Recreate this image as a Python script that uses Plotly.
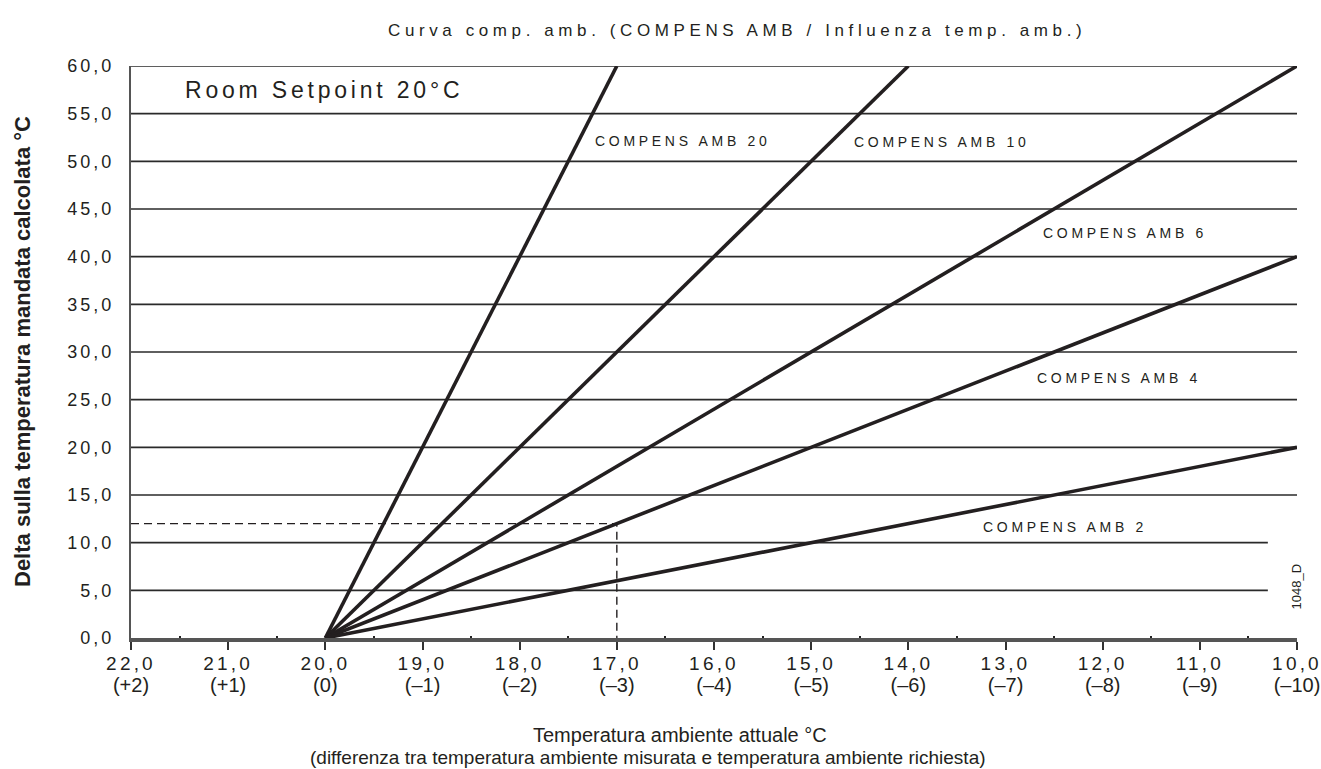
import plotly.graph_objects as go

# ---------------- data ----------------
curve_names = ["COMPENS AMB 20", "COMPENS AMB 10", "COMPENS AMB 6", "COMPENS AMB 4", "COMPENS AMB 2"]
curve_x = [[20, 17], [20, 14], [20, 10], [20, 10], [20, 10]]
curve_y = [[0, 60], [0, 60], [0, 60], [0, 40], [0, 20]]

# label anchor positions (data coords) for the curve names
label_x = [17.25, 14.58, 12.63, 12.70, 13.25]
label_y = [52.1, 52.0, 42.5, 27.3, 11.6]

example_x = [22, 17, 17]
example_y = [12, 12, 0]

x_ticks = [22, 21, 20, 19, 18, 17, 16, 15, 14, 13, 12, 11, 10]
x_tick_main = ["22,0", "21,0", "20,0", "19,0", "18,0", "17,0", "16,0", "15,0", "14,0", "13,0", "12,0", "11,0", "10,0"]
x_tick_diff = ["(+2)", "(+1)", "(0)", "(–1)", "(–2)", "(–3)", "(–4)", "(–5)", "(–6)", "(–7)", "(–8)", "(–9)", "(–10)"]

y_ticks = [0, 5, 10, 15, 20, 25, 30, 35, 40, 45, 50, 55, 60]
y_tick_text = ["0,0", "5,0", "10,0", "15,0", "20,0", "25,0", "30,0", "35,0", "40,0", "45,0", "50,0", "55,0", "60,0"]
grid_end = [10, 10.3, 10.3, 10, 10, 10, 10, 10, 10, 10, 10, 10, 10]

minor_ticks = [21.5, 20.5, 19.5, 18.5, 17.5, 16.5, 15.5, 14.5, 13.5, 12.5, 11.5, 10.5]

INK = "#231f20"
FONT = "Liberation Sans, Arial, sans-serif"
NARROW = "Liberation Sans Narrow, Arial Narrow, Liberation Sans, sans-serif"

W, H = 1321, 769
ML, MR, MT, MB = 131, 24, 66, 131
PW, PH = W - ML - MR, H - MT - MB


def spaced(t, px):
    return f"<span style='letter-spacing:{px}px'>{t}</span>"


def px_to_paper_x(px):
    return (px - ML) / PW


def px_to_paper_y(py):
    return (H - MB - py) / PH


fig = go.Figure()

for xs, ys, name in zip(curve_x, curve_y, curve_names):
    fig.add_trace(go.Scatter(x=xs, y=ys, mode="lines", name=name,
                             line=dict(color=INK, width=3.6), showlegend=False,
                             hoverinfo="skip"))

fig.add_trace(go.Scatter(x=example_x, y=example_y, mode="lines",
                         line=dict(color=INK, width=1.4, dash="8px,5px"),
                         showlegend=False, hoverinfo="skip"))

# horizontal grid lines
for yv, xe in zip(y_ticks[1:], grid_end[1:]):
    fig.add_shape(type="line", x0=22, x1=xe, y0=yv, y1=yv, xref="x", yref="y",
                  line=dict(color="#2a2a2a", width=1.6), layer="below")

# curve labels
for name, lx, ly in zip(curve_names, label_x, label_y):
    fig.add_annotation(x=lx, y=ly, xref="x", yref="y", text=spaced(name, 3.7),
                       showarrow=False, xanchor="left", yanchor="middle",
                       font=dict(family=FONT, size=14, color=INK))

fig.add_annotation(x=px_to_paper_x(183), y=px_to_paper_y(90), xref="paper", yref="paper",
                   text=spaced("Room Setpoint 20°C", 3.8), showarrow=False,
                   xanchor="left", yanchor="middle",
                   font=dict(family=FONT, size=23, color=INK))

fig.add_annotation(x=px_to_paper_x(386), y=px_to_paper_y(30), xref="paper", yref="paper",
                   text=spaced("Curva comp. amb. (COMPENS AMB / Influenza temp. amb.)", 4.6),
                   showarrow=False, xanchor="left", yanchor="middle",
                   font=dict(family=FONT, size=17, color=INK))

fig.add_annotation(x=px_to_paper_x(22), y=0.5, xref="paper", yref="paper",
                   text="<b>Delta sulla temperatura mandata calcolata °C</b>",
                   showarrow=False, textangle=-90, xanchor="center", yanchor="middle",
                   font=dict(family=FONT, size=22, color=INK))

fig.add_annotation(x=px_to_paper_x(680), y=px_to_paper_y(735), xref="paper", yref="paper",
                   text="Temperatura ambiente attuale °C", showarrow=False,
                   xanchor="center", yanchor="middle",
                   font=dict(family=FONT, size=20, color=INK))
fig.add_annotation(x=px_to_paper_x(648), y=px_to_paper_y(757), xref="paper", yref="paper",
                   text="(differenza tra temperatura ambiente misurata e temperatura ambiente richiesta)",
                   showarrow=False, xanchor="center", yanchor="middle",
                   font=dict(family=FONT, size=19, color=INK))

fig.add_annotation(x=10, y=5.4, xref="x", yref="y", text="1048_D", showarrow=False,
                   textangle=-90, xanchor="center", yanchor="middle",
                   font=dict(family=FONT, size=13, color=INK))

x_ticktext = [f"<span style='letter-spacing:3.2px;font-size:19px'>{a}</span>"
              f"<br><span style='font-family:{NARROW};font-size:20px'>{b}</span>"
              for a, b in zip(x_tick_main, x_tick_diff)]

fig.update_xaxes(range=[22, 10], tickmode="array", tickvals=x_ticks, ticktext=x_ticktext,
                 showgrid=False, zeroline=False, showline=True, linecolor="#555555",
                 linewidth=3.5, ticks="outside", ticklen=8, tickwidth=1.5, tickcolor="#333333",
                 tickfont=dict(family=FONT, size=17, color=INK), ticklabeloverflow="allow",
                 automargin=False,
                 minor=dict(tickvals=minor_ticks, ticks="inside", ticklen=2.5, tickwidth=2,
                            tickcolor="#222222"),
                 fixedrange=True)
fig.update_yaxes(range=[0, 60], tickmode="array", tickvals=y_ticks,
                 ticktext=[spaced(t, 3) for t in y_tick_text],
                 showgrid=False, zeroline=False, showline=True, linecolor="#555555",
                 linewidth=2, ticks="", ticklabelstandoff=11, automargin=False,
                 tickfont=dict(family=FONT, size=18, color=INK), fixedrange=True)

fig.update_layout(width=W, height=H, autosize=False,
                  margin=dict(l=ML, r=MR, t=MT, b=MB, autoexpand=False),
                  paper_bgcolor="white", plot_bgcolor="white", showlegend=False)

fig.write_html("out.html", config={"displayModeBar": False},
               post_script="document.body.style.margin='0px';document.body.style.overflow='hidden';")
